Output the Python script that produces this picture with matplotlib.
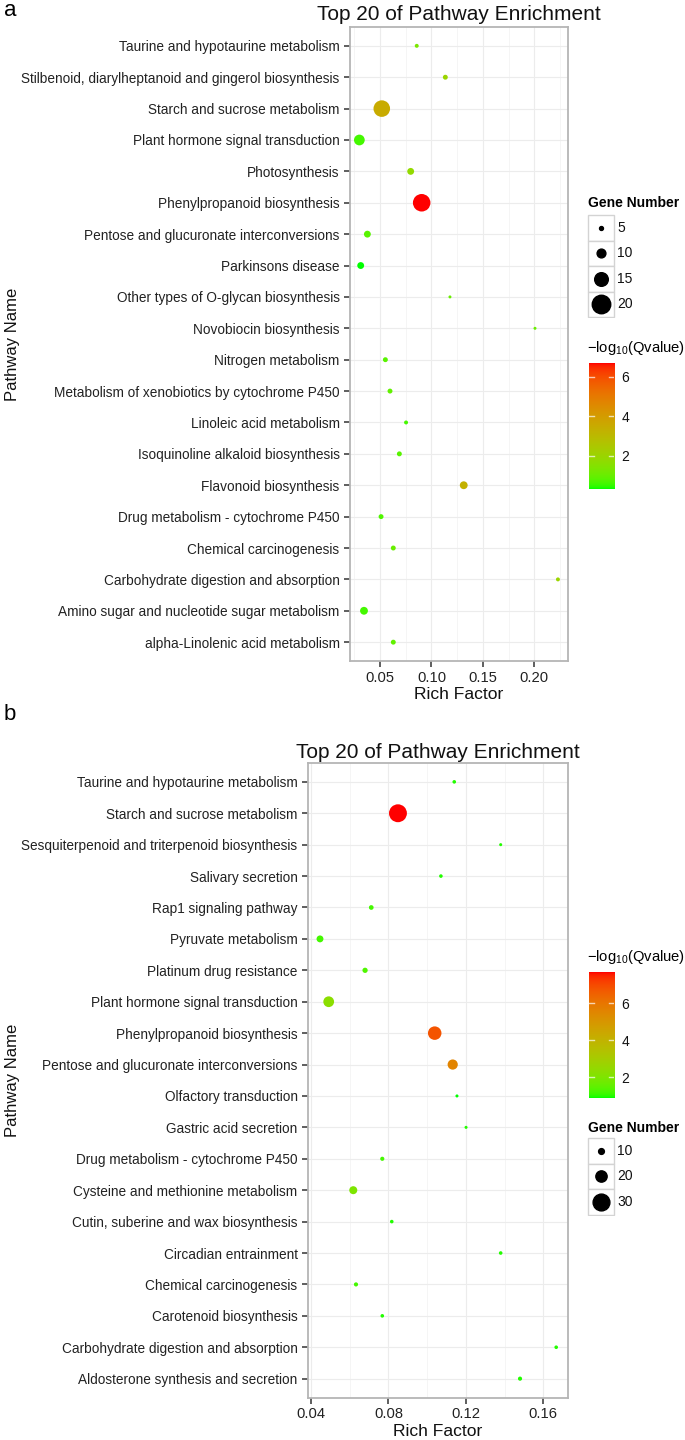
import numpy as np
import matplotlib
matplotlib.use('Agg')
import matplotlib.pyplot as plt
from matplotlib.colors import ListedColormap, Normalize
from matplotlib.patches import Rectangle

plt.rcParams['font.family'] = ['Liberation Sans', 'DejaVu Sans']
plt.rcParams['mathtext.fontset'] = 'custom'
plt.rcParams['mathtext.rm'] = 'Liberation Sans'
plt.rcParams['mathtext.it'] = 'Liberation Sans:italic'

# ---- panel a data (top to bottom) ----
names_a = ['Taurine and hypotaurine metabolism',
           'Stilbenoid, diarylheptanoid and gingerol biosynthesis',
           'Starch and sucrose metabolism',
           'Plant hormone signal transduction',
           'Photosynthesis',
           'Phenylpropanoid biosynthesis',
           'Pentose and glucuronate interconversions',
           'Parkinsons disease',
           'Other types of O-glycan biosynthesis',
           'Novobiocin biosynthesis',
           'Nitrogen metabolism',
           'Metabolism of xenobiotics by cytochrome P450',
           'Linoleic acid metabolism',
           'Isoquinoline alkaloid biosynthesis',
           'Flavonoid biosynthesis',
           'Drug metabolism - cytochrome P450',
           'Chemical carcinogenesis',
           'Carbohydrate digestion and absorption',
           'Amino sugar and nucleotide sugar metabolism',
           'alpha-Linolenic acid metabolism']
rich_a = [0.0857, 0.1135, 0.0517, 0.0299, 0.0798, 0.0905, 0.0377, 0.0312, 0.1180, 0.2007,
          0.0552, 0.0597, 0.0753, 0.0688, 0.1314, 0.0510, 0.0629, 0.2230, 0.0344, 0.0629]
genes_a = [5, 6, 18, 12, 8, 19, 8, 8, 4, 4, 6, 6, 5, 6, 9, 6, 6, 5, 9, 6]
qval_a = [1.3, 2.0, 3.5, 0.6, 1.8, 6.69, 0.8, 0.31, 1.0, 1.0,
          0.8, 0.9, 0.6, 0.8, 3.3, 0.7, 1.0, 2.0, 0.6, 0.9]
size_legend_a = [5, 10, 15, 20]
cbar_ticks_a = [2, 4, 6]
xticks_a = [0.05, 0.10, 0.15, 0.20]
xtick_labels_a = ['0.05', '0.10', '0.15', '0.20']

# ---- panel b data (top to bottom) ----
names_b = ['Taurine and hypotaurine metabolism',
           'Starch and sucrose metabolism',
           'Sesquiterpenoid and triterpenoid biosynthesis',
           'Salivary secretion',
           'Rap1 signaling pathway',
           'Pyruvate metabolism',
           'Platinum drug resistance',
           'Plant hormone signal transduction',
           'Phenylpropanoid biosynthesis',
           'Pentose and glucuronate interconversions',
           'Olfactory transduction',
           'Gastric acid secretion',
           'Drug metabolism - cytochrome P450',
           'Cysteine and methionine metabolism',
           'Cutin, suberine and wax biosynthesis',
           'Circadian entrainment',
           'Chemical carcinogenesis',
           'Carotenoid biosynthesis',
           'Carbohydrate digestion and absorption',
           'Aldosterone synthesis and secretion']
rich_b = [0.1140, 0.0849, 0.1380, 0.1071, 0.0711, 0.0446, 0.0679, 0.0491, 0.1039, 0.1132,
          0.1154, 0.1201, 0.0768, 0.0618, 0.0817, 0.1380, 0.0632, 0.0768, 0.1667, 0.1480]
genes_b = [6, 32, 5, 6, 8, 12, 9, 19, 24, 18, 5, 5, 7, 14, 6, 6, 7, 6, 6, 7]
qval_b = [1.0, 7.7, 1.0, 1.0, 1.2, 1.2, 1.3, 2.3, 6.8, 5.6,
          0.9, 1.0, 1.2, 2.0, 1.0, 1.0, 1.2, 1.0, 1.0, 1.0]
size_legend_b = [10, 20, 30]
cbar_ticks_b = [2, 4, 6]
xticks_b = [0.04, 0.08, 0.12, 0.16]
xtick_labels_b = ['0.04', '0.08', '0.12', '0.16']

W, H = 685, 1440
fig = plt.figure(figsize=(W / 100, H / 100), dpi=100)


def px_axes(l, t, r, b):
    return fig.add_axes([l / W, 1 - b / H, (r - l) / W, (b - t) / H])


def ftext(x, y, s, **kw):
    return fig.text(x / W, 1 - y / H, s, **kw)


# green -> red ramp interpolated in CIE Lab, like ggplot's gradient
M = np.array([[0.4124, 0.3576, 0.1805], [0.2126, 0.7152, 0.0722], [0.0193, 0.1192, 0.9505]])
WHITE = np.array([0.95047, 1.0, 1.08883])


def to_lab(rgb):
    c = np.asarray(rgb, float)
    c = np.where(c > 0.04045, ((c + 0.055) / 1.055) ** 2.4, c / 12.92)
    xyz = M @ c / WHITE
    f = np.where(xyz > 0.008856, np.cbrt(xyz), 7.787 * xyz + 16 / 116)
    return np.array([116 * f[1] - 16, 500 * (f[0] - f[1]), 200 * (f[1] - f[2])])


def from_lab(lab):
    fy = (lab[0] + 16) / 116
    f = np.array([fy + lab[1] / 500, fy, fy - lab[2] / 200])
    xyz = np.where(f ** 3 > 0.008856, f ** 3, (f - 16 / 116) / 7.787) * WHITE
    c = np.linalg.inv(M) @ xyz
    c = np.clip(c, 0, 1)
    c = np.where(c > 0.0031308, 1.055 * c ** (1 / 2.4) - 0.055, 12.92 * c)
    return np.clip(c, 0, 1)


lo, hi = to_lab((0, 1, 0)), to_lab((1, 0, 0))
cmap = ListedColormap([from_lab(lo + (hi - lo) * t) for t in np.linspace(0, 1, 256)])


def area(g, k, c):
    return ((k * np.asarray(g, float) + c) * 0.72) ** 2


def panel(box, names, rich, genes, qval, xlim, xticks, xlabels, xminor, k, c, title_y, rf_y):
    l, t, r, b = box
    ax = px_axes(l, t, r, b)
    n = len(names)
    y = np.arange(n)
    norm = Normalize(min(qval), max(qval))
    ax.scatter(rich, y, s=area(genes, k, c), c=qval, cmap=cmap, norm=norm,
               linewidths=0, zorder=3)
    ax.set_xlim(*xlim)
    ax.set_ylim(n - 0.4, -0.6)
    ax.set_yticks(y)
    ax.set_yticklabels(names)
    ax.set_xticks(xticks)
    ax.set_xticklabels(xlabels)
    ax.set_xticks(xminor, minor=True)
    ax.tick_params(which='major', length=4.3, width=1.1, color='#333333',
                   labelsize=9.8, labelcolor='#222222', pad=3.2)
    ax.tick_params(axis='x', which='major', labelsize=10.6, pad=2.8)
    ax.tick_params(which='minor', length=0)
    ax.grid(True, which='major', color='#ECECEC', lw=0.8, zorder=0)
    ax.grid(True, which='minor', axis='x', color='#F4F4F4', lw=0.6, zorder=0)
    for sp in ax.spines.values():
        sp.set_color('#B5B5B5')
        sp.set_linewidth(1.3)
    ftext((l + r) / 2, title_y, 'Top 20 of Pathway Enrichment', fontsize=15,
          ha='center', va='center', color='#111111')
    ftext((l + r) / 2, rf_y, 'Rich Factor', fontsize=12.6, ha='center', va='center',
          color='#111111')
    ftext(12, (t + b) / 2, 'Pathway Name', fontsize=12, rotation=90,
          ha='center', va='center', color='#111111')
    return norm


def size_legend(title_y, top, values, k, c):
    ftext(588, title_y, 'Gene Number', fontsize=10, weight='bold', va='center')
    hb = 25.5
    lax = px_axes(586, top - 1, 640, top + hb * len(values) + 1)
    lax.set_xlim(586, 640)
    lax.set_ylim(top + hb * len(values) + 1, top - 1)
    lax.axis('off')
    for i, v in enumerate(values):
        yy = top + i * hb
        lax.add_patch(Rectangle((588, yy), 25.5, hb, fc='white', ec='#D3D3D3', lw=1))
        lax.scatter([601], [yy + hb / 2], s=area([v], k, c), color='black', zorder=3)
        lax.text(617.5, yy + hb / 2, str(v), fontsize=10, va='center', color='#111111')


def color_bar(title_y, top, bot, norm, ticks):
    ftext(587, title_y, r'$-\mathrm{log}_{10}(\mathrm{Qvalue})$', fontsize=10.6, va='center')
    cax = px_axes(589, top, 614.3, bot)
    grad = np.linspace(norm.vmin, norm.vmax, 256).reshape(-1, 1)
    cax.imshow(grad, cmap=cmap, norm=norm, aspect='auto', origin='lower',
               extent=[0, 1, norm.vmin, norm.vmax])
    cax.set_xlim(0, 1)
    cax.set_ylim(norm.vmin, norm.vmax)
    for tk in ticks:
        cax.plot([0, 0.2], [tk, tk], color='white', lw=1, alpha=0.7)
        cax.plot([0.8, 1], [tk, tk], color='white', lw=1, alpha=0.7)
    cax.set_xticks([])
    cax.yaxis.tick_right()
    cax.set_yticks(ticks)
    cax.set_yticklabels([str(tk) for tk in ticks])
    cax.tick_params(length=0, pad=5, labelsize=10, labelcolor='#111111')
    for sp in cax.spines.values():
        sp.set_visible(False)


# panel a
norm_a = panel((350, 27, 567.5, 661), names_a, rich_a, genes_a, qval_a,
               (0.0208, 0.2323), xticks_a, xtick_labels_a, [0.025, 0.075, 0.125, 0.175, 0.225],
               0.97, -0.9, 14, 694)
size_legend(203, 215, size_legend_a, 0.97, -0.9)
color_bar(348, 363, 489, norm_a, cbar_ticks_a)
ftext(10, 11, 'a', fontsize=16, ha='center', va='center')

# panel b
norm_b = panel((308, 763, 568, 1397.5), names_b, rich_b, genes_b, qval_b,
               (0.0384, 0.1728), xticks_b, xtick_labels_b, [0.06, 0.10, 0.14],
               0.55, 0.3, 752, 1432)
color_bar(957, 971.7, 1097.7, norm_b, cbar_ticks_b)
size_legend(1127.7, 1138, size_legend_b, 0.55, 0.3)
ftext(10, 715, 'b', fontsize=16, ha='center', va='center')

fig.savefig('out.png', dpi=100)
